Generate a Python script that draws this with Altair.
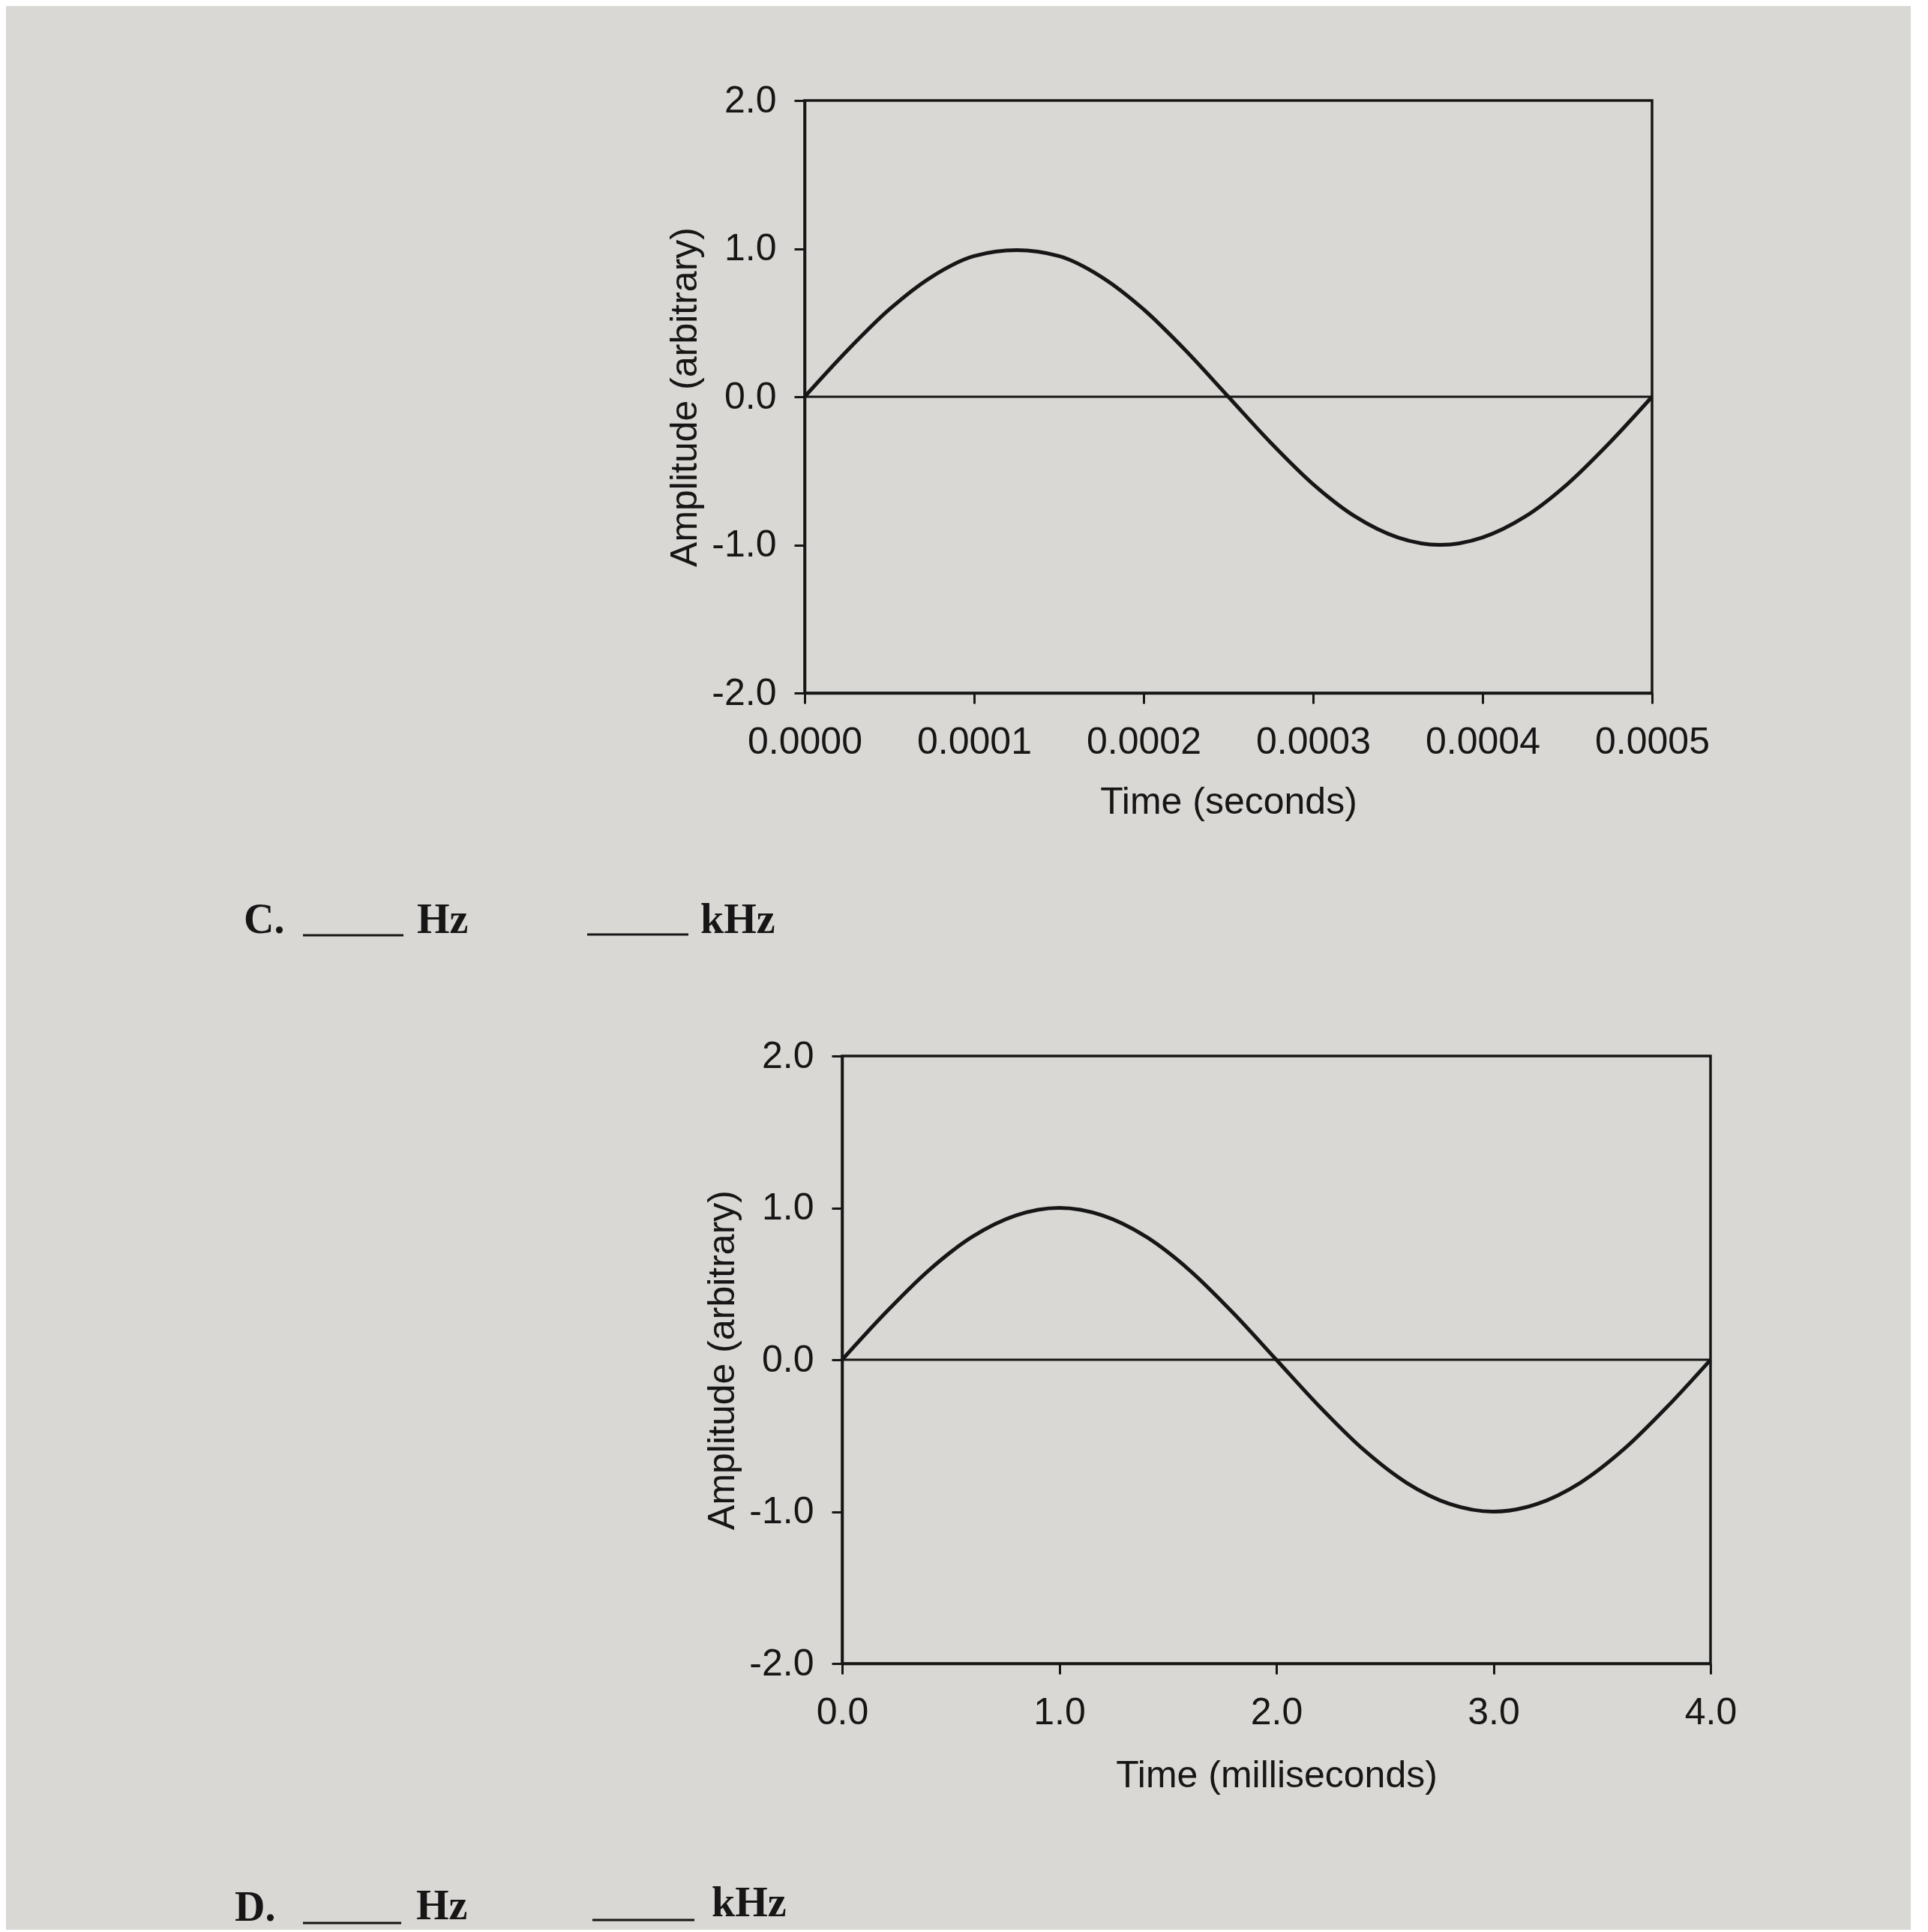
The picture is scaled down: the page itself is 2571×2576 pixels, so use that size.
import altair as alt
import pandas as pd

# ---- data ----
top_time_s = [0.0, 0.000025, 0.00005, 0.000075, 0.0001, 0.000125, 0.00015, 0.000175,
              0.0002, 0.000225, 0.00025, 0.000275, 0.0003, 0.000325, 0.00035, 0.000375,
              0.0004, 0.000425, 0.00045, 0.000475, 0.0005]
top_amp = [0.00, 0.31, 0.59, 0.81, 0.95, 0.99, 0.95, 0.81, 0.59, 0.31, 0.00,
           -0.31, -0.59, -0.81, -0.95, -1.00, -0.95, -0.81, -0.59, -0.31, 0.00]

bottom_time_ms = [0.0, 0.2, 0.4, 0.6, 0.8, 1.0, 1.2, 1.4, 1.6, 1.8, 2.0,
                  2.2, 2.4, 2.6, 2.8, 3.0, 3.2, 3.4, 3.6, 3.8, 4.0]
bottom_amp = [0.00, 0.31, 0.59, 0.81, 0.95, 1.00, 0.95, 0.81, 0.59, 0.31, 0.00,
              -0.31, -0.59, -0.81, -0.95, -1.00, -0.95, -0.81, -0.59, -0.31, 0.00]

top_x_ticks = [0.0, 0.0001, 0.0002, 0.0003, 0.0004, 0.0005]
bottom_x_ticks = [0.0, 1.0, 2.0, 3.0, 4.0]
y_ticks = [-2.0, -1.0, 0.0, 1.0, 2.0]

row_labels = ["C.", "D."]
unit_labels = ["Hz", "kHz"]
y_title = "Amplitude (arbitrary)"
top_x_title = "Time (seconds)"
bottom_x_title = "Time (milliseconds)"

BG = "#d9d8d5"
INK = "#161616"
FONT = "Liberation Sans"
SERIF = "Liberation Serif"


def label_expr(fmt):
    # plain hyphen for negatives, as printed on the sheet
    return ("datum.value < 0 ? '-' + format(-datum.value, '%s') : format(datum.value, '%s')"
            % (fmt, fmt))


def axis(values, fmt, title, label_pad, title_pad):
    return alt.Axis(values=values, labelExpr=label_expr(fmt), title=title, grid=False,
                    domain=True, domainColor=INK, domainWidth=3.5,
                    ticks=True, tickColor=INK, tickWidth=3, tickSize=14,
                    labelFont=FONT, labelFontSize=50, labelColor=INK,
                    labelPadding=label_pad, labelFlush=False, labelOverlap=False,
                    titleFont=FONT, titleFontSize=50, titleFontWeight="normal",
                    titleColor=INK, titlePadding=title_pad)


def wave_chart(times, amps, xdomain, xticks, xfmt, xtitle, w, h, xtitle_pad):
    df = pd.DataFrame({"t": times, "a": amps})
    x = alt.X("t:Q", scale=alt.Scale(domain=xdomain, nice=False, zero=False),
              axis=axis(xticks, xfmt, xtitle, 26, xtitle_pad))
    y = alt.Y("a:Q", scale=alt.Scale(domain=[-2, 2], nice=False),
              axis=axis(y_ticks, ".1f", y_title, 24, 10))
    line = alt.Chart(df).mark_line(color=INK, strokeWidth=5,
                                   interpolate="monotone").encode(x=x, y=y)
    zero = alt.Chart(pd.DataFrame({"_": [0]})).mark_rule(
        color=INK, strokeWidth=3).encode(y=alt.datum(0))
    return alt.layer(zero, line).properties(
        width=w, height=h,
        view=alt.ViewBackground(stroke=INK, strokeWidth=3.5))


def text_panel(label, items, blanks, w, h):
    """Invisible left-hand panel that carries the 'C. ___ Hz ___ kHz' line."""
    one = pd.DataFrame({"_": [0]})
    layers = [alt.Chart(one).mark_point(opacity=0).encode(
        x=alt.value(10), y=alt.value(10))]
    for txt, (px, py) in [(label, items[0])] + list(zip(unit_labels, items[1:])):
        layers.append(alt.Chart(one).mark_text(
            align="left", baseline="alphabetic", font=SERIF, fontSize=56,
            fontWeight="bold", color=INK).encode(
            x=alt.value(px), y=alt.value(py), text=alt.value(txt)))
    for (x1, x2, yy) in blanks:
        layers.append(alt.Chart(one).mark_rule(color=INK, strokeWidth=3).encode(
            x=alt.value(x1), x2=alt.value(x2), y=alt.value(yy)))
    return alt.layer(*layers).properties(width=w, height=h)


top = wave_chart(top_time_s, top_amp, [0, 0.0005], top_x_ticks, ".4f",
                 top_x_title, 1130, 790, 30)
bottom = wave_chart(bottom_time_ms, bottom_amp, [0, 4.0], bottom_x_ticks, ".1f",
                    bottom_x_title, 1158, 810, 34)

# panel A: origin at page y 132; C line baseline near page y 1245
panel_c = text_panel(row_labels[0], [(316, 1110), (547, 1110), (925, 1110)],
                     [(395, 529, 1113), (774, 909, 1112)], 1064, 1246)
# panel B: origin at page y 1403; D line baseline near page y 2560
panel_d = text_panel(row_labels[1], [(304, 1153), (546, 1151), (940, 1147)],
                     [(395, 526, 1156), (781, 917, 1152)], 1114, 1160)

row_top = alt.hconcat(panel_c, top, spacing=0, bounds="flush")
row_bottom = alt.hconcat(panel_d, bottom, spacing=0, bounds="flush")

chart = alt.vconcat(row_top, row_bottom, spacing=0).properties(
    padding={"left": 0, "top": 99, "right": 230, "bottom": 0},
    background=BG).configure_view(stroke="transparent")

chart.save("out.html", embed_options={"renderer": "svg", "actions": False})
